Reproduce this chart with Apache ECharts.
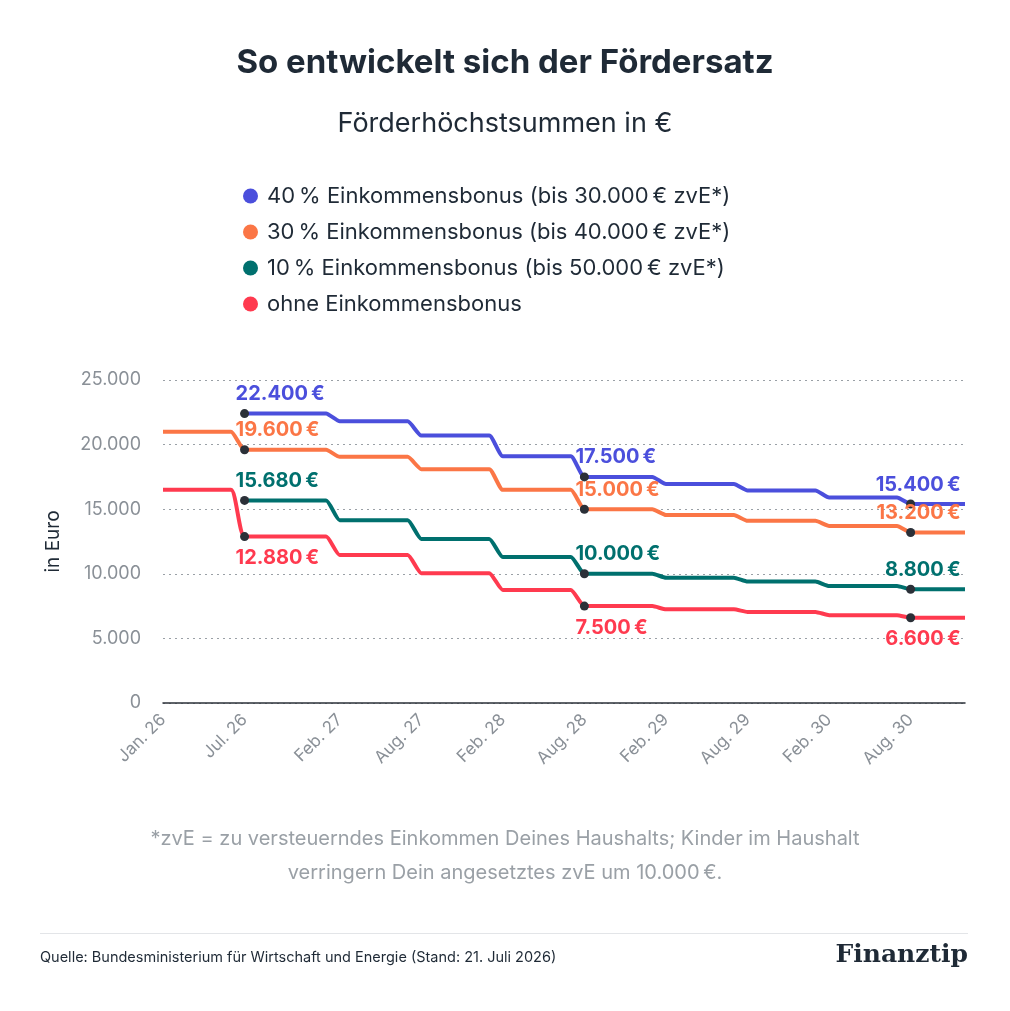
<!DOCTYPE html>
<html style='height: 100%'>
<head>
    <meta charset='utf-8'>
    <script src="https://cdn.jsdelivr.net/npm/echarts@6/dist/echarts.min.js"></script>
</head>
<body style='height: 100%; margin: 0; background: #fff'>
    <div id='container' style='width: 1010px; height: 1011px'></div>
    <script type="text/javascript">

// months since Jan. 26
var tickMonths = [0, 6, 13, 19, 25, 31, 37, 43, 49, 55];
var tickLabels = ['Jan. 26', 'Jul. 26', 'Feb. 27', 'Aug. 27', 'Feb. 28', 'Aug. 28', 'Feb. 29', 'Aug. 29', 'Feb. 30', 'Aug. 30'];
var changeMonths = [6, 13, 19, 25, 31, 37, 43, 49, 55];
var endMonth = 59;

var names = ['40\u2009% Einkommensbonus (bis 30.000\u2009€ zvE*)', '30\u2009% Einkommensbonus (bis 40.000\u2009€ zvE*)',
             '10\u2009% Einkommensbonus (bis 50.000\u2009€ zvE*)', 'ohne Einkommensbonus'];
var colors = ['#4b4fdc', '#fb7646', '#00706e', '#ff3a4f'];

// value before Jul. 26 (null = line starts at Jul. 26), then values after each change month
var startVals = [null, 21000, null, 16500];
var bonus40 = [22400, 21800, 20700, 19100, 17500, 16950, 16450, 15900, 15400];
var bonus30 = [19600, 19050, 18100, 16500, 15000, 14550, 14100, 13700, 13200];
var bonus10 = [15680, 14150, 12700, 11300, 10000, 9700, 9400, 9050, 8800];
var ohne    = [12880, 11450, 10050, 8750, 7500, 7250, 7050, 6800, 6600];
var allVals = [bonus40, bonus30, bonus10, ohne];
var labelIdx = [0, 4, 8];
var labelAbove = [true, true, true, false];

function fmt(v) { return v.toLocaleString('de-DE') + '\u2009€'; }

function stepData(start, vals) {
    var d = [];
    if (start !== null) { d.push([0, start]); }
    for (var i = 0; i < vals.length; i++) {
        var m = changeMonths[i];
        if (i > 0 || start !== null) d.push([m - 1, i > 0 ? vals[i - 1] : start]);
        d.push([m, vals[i]]);
    }
    d.push([endMonth, vals[vals.length - 1]]);
    return d;
}

var series = [];
allVals.forEach(function (vals, s) {
    series.push({
        name: names[s], type: 'line', data: stepData(startVals[s], vals),
        showSymbol: false, smooth: 0.15, lineStyle: {width: 4, color: colors[s]},
        itemStyle: {color: colors[s]}, z: 2
    });
    var pts = labelIdx.map(function (k, j) {
        var last = j === 2;
        return {
            value: [changeMonths[k], vals[k]],
            label: {
                show: true, formatter: fmt(vals[k]), color: colors[s],
                fontSize: 20, fontWeight: 'bold', fontFamily: 'Inter',
                position: labelAbove[s] ? 'top' : 'bottom',
                align: last ? 'right' : 'left',
                offset: [last ? 50 : -9, labelAbove[s] ? 0 : 2]
            }
        };
    });
    series.push({
        type: 'scatter', data: pts, symbolSize: 9, z: 5,
        itemStyle: {color: '#2b3038', opacity: 1}, silent: true
    });
});

var myChart = echarts.init(document.getElementById('container'));
var option = {
    backgroundColor: '#fff',
    textStyle: {fontFamily: 'Inter'},
    title: [
        {text: 'So entwickelt sich der Fördersatz', left: 'center', top: 42,
         textStyle: {fontSize: 33, fontWeight: 'bold', color: '#1f2a36', fontFamily: 'Inter'}},
        {text: 'Förderhöchstsummen in €', left: 'center', top: 105,
         textStyle: {fontSize: 27, fontWeight: 'normal', color: '#1f2a36', fontFamily: 'Inter'}}
    ],
    legend: {
        orient: 'vertical', left: 238, top: 180, itemGap: 14, icon: 'circle',
        itemWidth: 15, itemHeight: 15,
        data: names,
        textStyle: {fontSize: 22, color: '#1f2a36', fontFamily: 'Inter', padding: [0, 0, 0, 4]}
    },
    grid: {left: 163, right: 45, top: 380, bottom: 308},
    xAxis: {
        type: 'value', min: 0, max: endMonth,
        axisLine: {lineStyle: {color: '#2b3038', width: 1.5}},
        axisTick: {show: false}, splitLine: {show: false},
        axisLabel: {
            customValues: tickMonths, rotate: 45, color: '#8a9097', fontSize: 17, margin: 14,
            formatter: function (v) { return tickLabels[tickMonths.indexOf(v)] || ''; }
        }
    },
    yAxis: {
        type: 'value', min: 0, max: 25000, interval: 5000,
        name: 'in Euro', nameLocation: 'middle', nameGap: 100,
        nameTextStyle: {fontSize: 19, color: '#1f2a36'},
        axisLine: {show: false}, axisTick: {show: false},
        axisLabel: {color: '#8a9097', fontSize: 18, margin: 22,
            formatter: function (v) { return v.toLocaleString('de-DE'); }},
        splitLine: {lineStyle: {type: [2, 4], color: '#9aa0a6'}}
    },
    series: series,
    graphic: [
        {type: 'text', x: 505, y: 822, style: {
            text: '*zvE = zu versteuerndes Einkommen Deines Haushalts; Kinder im Haushalt\nverringern Dein angesetztes zvE um 10.000\u2009€.',
            fill: '#9aa0a6', font: '20px Inter', align: 'center', lineHeight: 34}},
        {type: 'rect', shape: {x: 40, y: 933, width: 928, height: 1}, style: {fill: '#e3e5e8'}},
        {type: 'text', left: 40, top: 950, style: {
            text: 'Quelle: Bundesministerium für Wirtschaft und Energie (Stand: 21. Juli 2026)',
            fill: '#1f2a36', font: '14.5px Inter'}},
        {type: 'text', right: 42, top: 943, style: {
            text: 'Finanztip', fill: '#1f2a36', font: 'bold 25px "DejaVu Serif"'}}
    ]
};
myChart.setOption(option);
    </script>
</body>
</html>
